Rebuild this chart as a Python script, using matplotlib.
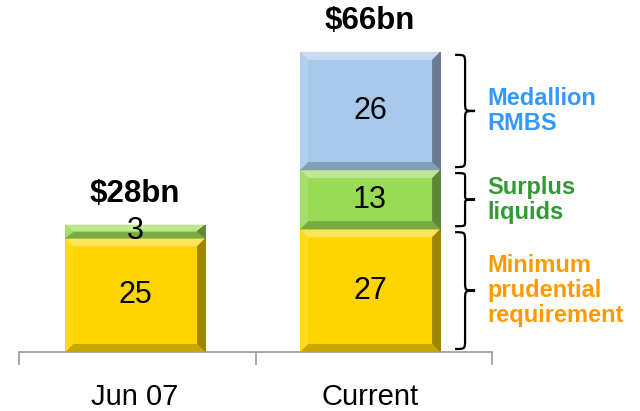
import matplotlib
matplotlib.use("Agg")
import matplotlib.pyplot as plt
from matplotlib.patches import Polygon
from matplotlib.path import Path
from matplotlib.patches import PathPatch
import matplotlib.colors as mcolors

plt.rcParams['font.family'] = ['Liberation Sans', 'DejaVu Sans']

categories = ["Jun 07", "Current"]
segment_names = ["Minimum\nprudential\nrequirement", "Surplus\nliquids", "Medallion\nRMBS"]
min_prudential = [25, 27]
surplus_liquids = [3, 13]
medallion_rmbs = [0, 26]
totals_labels = ["$28bn", "$66bn"]
series = [min_prudential, surplus_liquids, medallion_rmbs]
face_colors = ["#FFD500", "#99DB55", "#A8C8EA"]
label_colors = ["#FF9900", "#339933", "#3399FF"]

W, H = 640, 411
fig = plt.figure(figsize=(W / 100, H / 100), dpi=100)
ax = fig.add_axes([19 / W, 59 / H, 473 / W, 352 / H])
xlo, xhi = -0.494, 1.519
ax.set_xlim(xlo, xhi)
ax.set_ylim(0, 77.4)

x = list(range(len(categories)))
bar_w = 0.596
px_x = 473 / (xhi - xlo)     # pixels per x unit
px_y = 352 / 77.4            # pixels per y unit


def shade(c, f):
    r, g, b = mcolors.to_rgb(c)
    if f >= 1:
        t = f - 1
        return (r + (1 - r) * t, g + (1 - g) * t, b + (1 - b) * t)
    return (r * f, g * f, b * f)


bottoms = [0] * len(categories)
seg_ranges = {}
for si, vals in enumerate(series):
    bars = ax.bar(x, vals, width=bar_w, bottom=bottoms, color=face_colors[si],
                  edgecolor=shade(face_colors[si], 0.55), linewidth=0.6, zorder=2)
    for i, (p, v) in enumerate(zip(bars.patches, vals)):
        if v <= 0:
            continue
        x0, y0, w, h = p.get_x(), p.get_y(), p.get_width(), p.get_height()
        x1, y1 = x0 + w, y0 + h
        b = 8
        dx = b / px_x
        dy = min(b / px_y, h / 2.2)
        fc = face_colors[si]
        pieces = [
            ([(x0, y1), (x1, y1), (x1 - dx, y1 - dy), (x0 + dx, y1 - dy)], shade(fc, 1.35)),
            ([(x0, y0), (x1, y0), (x1 - dx, y0 + dy), (x0 + dx, y0 + dy)], shade(fc, 0.78)),
            ([(x0, y0), (x0, y1), (x0 + dx, y1 - dy), (x0 + dx, y0 + dy)], shade(fc, 1.12)),
            ([(x1, y0), (x1, y1), (x1 - dx, y1 - dy), (x1 - dx, y0 + dy)], shade(fc, 0.62)),
        ]
        for pts, col in pieces:
            ax.add_patch(Polygon(pts, closed=True, facecolor=col, edgecolor='none', zorder=3))
        ax.text(x0 + w / 2, y0 + h / 2, str(v), ha='center', va='center',
                fontsize=22, color='black', zorder=5)
        seg_ranges[(si, i)] = (x1, y0, y1)
    bottoms = [bt + v for bt, v in zip(bottoms, vals)]

# totals
for i, t in enumerate(totals_labels):
    ax.annotate(t, (x[i], bottoms[i]), xytext=(0, 22), textcoords='offset points',
                ha='center', va='center', fontsize=22.5, fontweight='bold', annotation_clip=False)


# braces
def brace(ax, xb, ylo, yhi, depth, color='black'):
    ym = (ylo + yhi) / 2
    d = depth
    k = (yhi - ylo) * 0.08
    verts = [
        (xb, yhi),
        (xb + d * 0.5, yhi), (xb + d * 0.5, yhi), (xb + d * 0.5, yhi - k),
        (xb + d * 0.5, ym + k),
        (xb + d * 0.5, ym), (xb + d * 0.5, ym), (xb + d, ym),
        (xb + d * 0.5, ym), (xb + d * 0.5, ym), (xb + d * 0.5, ym - k),
        (xb + d * 0.5, ylo + k),
        (xb + d * 0.5, ylo), (xb + d * 0.5, ylo), (xb, ylo),
    ]
    codes = [Path.MOVETO,
             Path.CURVE4, Path.CURVE4, Path.CURVE4,
             Path.LINETO,
             Path.CURVE4, Path.CURVE4, Path.CURVE4,
             Path.CURVE4, Path.CURVE4, Path.CURVE4,
             Path.LINETO,
             Path.CURVE4, Path.CURVE4, Path.CURVE4]
    ax.add_patch(PathPatch(Path(verts, codes), facecolor='none', edgecolor=color,
                           linewidth=1.6, clip_on=False, zorder=4))


last = len(categories) - 1
for si in range(len(series)):
    if (si, last) not in seg_ranges:
        continue
    xr, y0, y1 = seg_ranges[(si, last)]
    gap = 3 / px_y
    xb = xr + 15 / px_x
    brace(ax, xb, y0 + gap, y1 - gap, 20 / px_x)
    ax.text(xr + 47 / px_x, (y0 + y1) / 2, segment_names[si], ha='left', va='center',
            fontsize=17, fontweight='bold', color=label_colors[si], linespacing=1.12,
            clip_on=False)

# axis styling
for s in ['top', 'right', 'left']:
    ax.spines[s].set_visible(False)
ax.spines['bottom'].set_color('#999999')
ax.spines['bottom'].set_linewidth(1.2)
ax.set_yticks([])
ax.set_xticks([xlo, 0.515, xhi])
ax.set_xticklabels([])
ax.tick_params(axis='x', which='major', length=9, width=1.2, color='#999999', direction='out')
ax.set_xticks(x, categories, minor=True)
ax.tick_params(axis='x', which='minor', length=0, pad=22, labelsize=21)

fig.savefig("out.png", dpi=100)
